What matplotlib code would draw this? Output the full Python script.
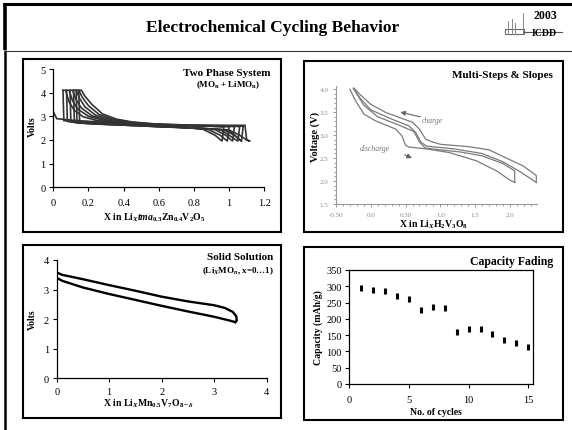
import matplotlib
matplotlib.use('Agg')
import matplotlib.pyplot as plt
from matplotlib.patches import Rectangle
from matplotlib.lines import Line2D
from matplotlib.ticker import MultipleLocator

W, H = 572, 431
plt.rcParams['font.family'] = ['Liberation Serif', 'DejaVu Serif']
plt.rcParams['mathtext.fontset'] = 'custom'
plt.rcParams['mathtext.rm'] = 'Liberation Serif:bold'
plt.rcParams['mathtext.it'] = 'Liberation Serif:italic:bold'
plt.rcParams['mathtext.bf'] = 'Liberation Serif:bold'

# ---------------- data ----------------
# Panel 1: Two phase system, cycles (x, volts)
p1_cycles_x = [
    [0.00, 0.00, 0.02, 0.10, 0.30, 0.50, 0.70, 0.85, 0.92, 0.96,
     0.97, 0.90, 0.70, 0.50, 0.35, 0.25, 0.17, 0.12, 0.09, 0.07, 0.055],
    [0.055, 0.06, 0.15, 0.30, 0.50, 0.70, 0.88, 0.95, 0.99,
     1.00, 0.90, 0.70, 0.50, 0.38, 0.28, 0.20, 0.14, 0.11, 0.09, 0.075],
    [0.075, 0.08, 0.18, 0.35, 0.55, 0.75, 0.92, 0.98, 1.02,
     1.03, 0.92, 0.72, 0.52, 0.40, 0.30, 0.22, 0.16, 0.13, 0.11, 0.095],
    [0.095, 0.10, 0.20, 0.40, 0.60, 0.80, 0.95, 1.00, 1.05,
     1.06, 0.95, 0.75, 0.55, 0.42, 0.32, 0.24, 0.18, 0.15, 0.13, 0.115],
    [0.115, 0.12, 0.22, 0.40, 0.60, 0.80, 0.97, 1.03, 1.07,
     1.08, 0.97, 0.77, 0.57, 0.44, 0.34, 0.26, 0.20, 0.165, 0.145, 0.13],
    [0.13, 0.135, 0.25, 0.45, 0.65, 0.85, 1.00, 1.06, 1.10, 1.12,
     1.10, 1.09, 0.98, 0.78, 0.58, 0.45, 0.36, 0.28, 0.22, 0.18, 0.16, 0.145],
    [0.145, 0.15, 0.30, 0.50, 0.70, 0.90, 1.00, 1.04, 1.07],
]
p1_cycles_v = [
    [2.90, 3.20, 2.90, 2.84, 2.74, 2.64, 2.56, 2.46, 2.20, 1.95,
     2.55, 2.58, 2.62, 2.68, 2.74, 2.82, 2.98, 3.25, 3.60, 4.10, 4.10],
    [4.10, 2.82, 2.76, 2.70, 2.62, 2.55, 2.45, 2.20, 1.95,
     2.56, 2.58, 2.62, 2.67, 2.74, 2.84, 3.00, 3.30, 3.65, 4.10, 4.10],
    [4.10, 2.78, 2.73, 2.67, 2.60, 2.53, 2.44, 2.20, 1.95,
     2.57, 2.59, 2.62, 2.67, 2.74, 2.85, 3.02, 3.35, 3.70, 4.10, 4.10],
    [4.10, 2.76, 2.71, 2.64, 2.57, 2.51, 2.44, 2.20, 1.95,
     2.57, 2.59, 2.62, 2.67, 2.75, 2.86, 3.05, 3.40, 3.75, 4.10, 4.10],
    [4.10, 2.74, 2.69, 2.63, 2.56, 2.50, 2.43, 2.20, 1.95,
     2.58, 2.60, 2.62, 2.67, 2.75, 2.87, 3.08, 3.45, 3.80, 4.10, 4.10],
    [4.10, 2.72, 2.67, 2.61, 2.55, 2.49, 2.42, 2.20, 2.00, 1.95,
     2.00, 2.62, 2.62, 2.63, 2.68, 2.76, 2.88, 3.10, 3.50, 3.85, 4.10, 4.10],
    [4.10, 2.72, 2.66, 2.60, 2.54, 2.47, 2.40, 2.15, 1.95],
]
p1_xticks = [0, 0.2, 0.4, 0.6, 0.8, 1.0, 1.2]
p1_xticklabels = ['0', '0.2', '0.4', '0.6', '0.8', '1', '1.2']
p1_yticks = [0, 1, 2, 3, 4, 5]

# Panel 2: Multi-steps & slopes (x in LixH2V3O8, voltage)
p2_curves_x = [
    [-0.30, -0.22, -0.10, 0.07, 0.36, 0.45, 0.50, 0.55, 0.80, 1.13, 1.52, 1.81, 2.00, 2.07],
    [2.07, 2.07, 1.90, 1.60, 1.30, 1.00, 0.78, 0.70, 0.62, 0.40, 0.10, -0.10, -0.25],
    [-0.25, -0.15, 0.00, 0.30, 0.55, 0.65, 0.72, 0.80, 1.20, 1.60, 1.90, 2.15, 2.38],
    [2.38, 2.38, 2.19, 1.95, 1.70, 1.40, 1.00, 0.89, 0.79, 0.70, 0.60, 0.22, 0.00, -0.15, -0.24],
]
p2_curves_v = [
    [4.00, 3.75, 3.46, 3.31, 3.13, 2.98, 2.78, 2.74, 2.70, 2.62, 2.44, 2.22, 2.02, 1.97],
    [1.97, 2.22, 2.38, 2.55, 2.63, 2.68, 2.72, 2.85, 3.08, 3.22, 3.40, 3.65, 4.02],
    [4.02, 3.80, 3.55, 3.35, 3.20, 3.05, 2.85, 2.76, 2.70, 2.60, 2.42, 2.20, 1.97],
    [1.97, 2.12, 2.33, 2.50, 2.68, 2.75, 2.80, 2.85, 2.91, 3.13, 3.28, 3.49, 3.67, 3.88, 4.02],
]
p2_xticks = [-0.5, 0.0, 0.5, 1.0, 1.5, 2.0]
p2_xticklabels = ['-0.50', '0.0', '0.50', '1.0', '1.5', '2.0']
p2_yticks = [1.5, 2.0, 2.5, 3.0, 3.5, 4.0]
p2_yticklabels = ['1.5', '2.0', '2.5', '3.0', '3.5', '4.0']

# Panel 3: Solid solution
p3_upper_x = [0.0, 0.1, 0.5, 1.0, 1.5, 2.0, 2.5, 3.0, 3.2, 3.35, 3.42, 3.43, 3.40]
p3_upper_v = [3.58, 3.50, 3.35, 3.15, 2.96, 2.76, 2.60, 2.47, 2.38, 2.25, 2.10, 1.95, 1.90]
p3_lower_x = [0.0, 0.1, 0.5, 1.0, 1.5, 2.0, 2.5, 3.0, 3.3, 3.40]
p3_lower_v = [3.40, 3.30, 3.07, 2.85, 2.65, 2.45, 2.26, 2.08, 1.95, 1.90]
p3_ticks = [0, 1, 2, 3, 4]

# Panel 4: Capacity fading
cycles = [1, 2, 3, 4, 5, 6, 7, 8, 9, 10, 11, 12, 13, 14, 15]
capacity = [295, 290, 285, 270, 262, 228, 237, 232, 160, 170, 170, 155, 135, 125, 115]
p4_xticks = [0, 5, 10, 15]
p4_yticks = [0, 50, 100, 150, 200, 250, 300, 350]

# ---------------- helpers ----------------
fig = plt.figure(figsize=(W / 100, H / 100), dpi=100)


def box(x0, y0, x1, y1):
    return [x0 / W, 1 - y1 / H, (x1 - x0) / W, (y1 - y0) / H]


def ftext(x, y, s, **kw):
    fig.text(x / W, 1 - y / H, s, **kw)


def fline(xs, ys, **kw):
    fig.add_artist(Line2D([x / W for x in xs], [1 - y / H for y in ys],
                          transform=fig.transFigure, **kw))


def frect(x0, y0, x1, y1, **kw):
    fig.add_artist(Rectangle((x0 / W, 1 - y1 / H), (x1 - x0) / W, (y1 - y0) / H,
                             transform=fig.transFigure, fill=False, **kw))


def excel_axes(ax, full=False):
    for s in ['top', 'right']:
        ax.spines[s].set_visible(full)
    for s in ax.spines.values():
        s.set_linewidth(0.9)
        s.set_color('black')
    ax.tick_params(direction='out', length=3, width=0.8, labelsize=7.5, pad=2.5,
                   top=False, right=False)
    ax.set_facecolor('none')


# ---------------- frame ----------------
fline([3, 572], [4.5, 4.5], color='black', lw=2.2, solid_capstyle='butt')
fline([5, 5], [3.5, 51], color='black', lw=2.6, solid_capstyle='butt')
fline([4.8, 4.8], [51, 431], color='black', lw=1.8, solid_capstyle='butt')
fline([5, 572], [51.5, 51.5], color='#333333', lw=0.8)
ftext(273, 28, 'Electrochemical Cycling Behavior', ha='center', va='center',
      fontsize=12.5, weight='bold')

# logo
for lx, ly in [(508, 22), (512, 20), (515, 24), (523, 14)]:
    fline([lx, lx], [ly, 35], color='#888888', lw=0.7)
frect(505, 29.5, 524, 35, color='#666666', lw=0.8)
fline([524, 562], [33, 33], color='#555555', lw=0.8)
ftext(545, 16, '2003', ha='center', va='center', fontsize=8.5, weight='bold')
ftext(544, 34, 'ICDD', ha='center', va='center', fontsize=7, weight='bold')

# panel frames
frect(22.7, 60, 281, 233, color='black', lw=1.5)
frect(304, 62, 563, 233, color='black', lw=1.5)
frect(22.7, 246, 281, 419, color='black', lw=1.5)
frect(304, 248, 563, 421, color='black', lw=1.5)

# ---------------- panel 1 ----------------
ax1 = fig.add_axes(box(53.3, 70, 264.3, 188.3))
for xs, vs in zip(p1_cycles_x, p1_cycles_v):
    ax1.plot(xs, vs, color='#333333', lw=1.2, solid_joinstyle='miter')
ax1.set_xlim(0, 1.2)
ax1.set_ylim(0, 5)
ax1.set_xticks(p1_xticks)
ax1.set_xticklabels(p1_xticklabels)
ax1.set_yticks(p1_yticks)
excel_axes(ax1)
ax1.tick_params(axis='x', pad=5)
ftext(270.7, 73.3, 'Two Phase System', ha='right', va='center', fontsize=8, weight='bold')
ftext(260, 85, r'(MO$_\mathbf{n}$ + LiMO$_\mathbf{n}$)', ha='right', va='center',
      fontsize=6.5, weight='bold')
ftext(32, 127, 'Volts', rotation=90, ha='center', va='center', fontsize=7, weight='bold')
ftext(154, 218, r'X in Li$_X$$tma_{0.3}$Zn$_{0.4}$V$_2$O$_5$', ha='center', va='center',
      fontsize=7, weight='bold')

# ---------------- panel 2 ----------------
ax2 = fig.add_axes(box(336, 87, 537, 205))
for xs, vs in zip(p2_curves_x, p2_curves_v):
    ax2.plot(xs, vs, color='#7a7a7a', lw=0.9)
ax2.set_xlim(-0.5, 2.39)
ax2.set_ylim(1.5, 4.07)
ax2.set_xticks(p2_xticks)
ax2.set_xticklabels(p2_xticklabels)
ax2.set_yticks(p2_yticks)
ax2.set_yticklabels(p2_yticklabels)
ax2.xaxis.set_minor_locator(MultipleLocator(0.1))
ax2.yaxis.set_minor_locator(MultipleLocator(0.1))
for s in ['top', 'right']:
    ax2.spines[s].set_visible(False)
for s in ['left', 'bottom']:
    ax2.spines[s].set_color('#9a9a9a')
    ax2.spines[s].set_linewidth(0.8)
ax2.tick_params(which='both', direction='out', colors='#8a8a8a', labelsize=5, width=0.6)
ax2.tick_params(which='major', length=2.5, pad=3)
ax2.tick_params(which='minor', length=1.2)
ax2.set_facecolor('none')
ax2.annotate('', xy=(0.386, 3.515), xytext=(0.75, 3.385),
             arrowprops=dict(arrowstyle='-|>', color='#666666', lw=0.8, mutation_scale=7))
ax2.text(0.89, 3.33, 'charge', ha='center', va='center', fontsize=5.5, color='#777777',
         style='italic')
ax2.annotate('', xy=(0.63, 2.478), xytext=(0.45, 2.59),
             arrowprops=dict(arrowstyle='-|>', color='#666666', lw=0.8, mutation_scale=7))
ax2.text(0.064, 2.72, 'discharge', ha='center', va='center', fontsize=5.5, color='#777777',
         style='italic')
ftext(553, 75.7, 'Multi-Steps & Slopes', ha='right', va='center', fontsize=8, weight='bold')
ftext(315, 137, 'Voltage (V)', rotation=90, ha='center', va='center', fontsize=7.5,
      weight='bold')
ftext(434, 225, r'X in Li$_X$H$_2$V$_3$O$_8$', ha='center', va='center', fontsize=7,
      weight='bold')

# ---------------- panel 3 ----------------
ax3 = fig.add_axes(box(56.7, 261, 266.7, 379.3))
ax3.plot(p3_upper_x, p3_upper_v, color='black', lw=1.7)
ax3.plot(p3_lower_x, p3_lower_v, color='black', lw=1.7)
ax3.set_xlim(0, 4)
ax3.set_ylim(0, 4)
ax3.set_xticks(p3_ticks)
ax3.set_yticks(p3_ticks)
excel_axes(ax3)
ax3.tick_params(axis='x', pad=3.5)
ftext(273, 258, 'Solid Solution', ha='right', va='center', fontsize=8, weight='bold')
ftext(274, 271, r'(Li$_X$MO$_n$, x=0…1)', ha='right', va='center', fontsize=6.5,
      weight='bold')
ftext(32, 320, 'Volts', rotation=90, ha='center', va='center', fontsize=7, weight='bold')
ftext(148, 404, r'X in Li$_X$Mn$_{0.5}$V$_7$O$_{8-\delta}$', ha='center', va='center',
      fontsize=7, weight='bold')

# ---------------- panel 4 ----------------
ax4 = fig.add_axes(box(349.3, 271, 533, 385))
ax4.plot(cycles, capacity, linestyle='none', marker='|', markersize=4.5,
         markeredgewidth=2.2, color='black')
ax4.set_xlim(0, 15.4)
ax4.set_ylim(0, 350)
ax4.set_xticks(p4_xticks)
ax4.set_yticks(p4_yticks)
excel_axes(ax4, full=True)
ax4.tick_params(axis='x', pad=5)
ftext(553, 262, 'Capacity Fading', ha='right', va='center', fontsize=8.5, weight='bold')
ftext(318, 328, 'Capacity (mAh/g)', rotation=90, ha='center', va='center', fontsize=7,
      weight='bold')
ftext(435.7, 412.5, 'No. of cycles', ha='center', va='center', fontsize=7, weight='bold')

fig.savefig('out.png', dpi=100)
